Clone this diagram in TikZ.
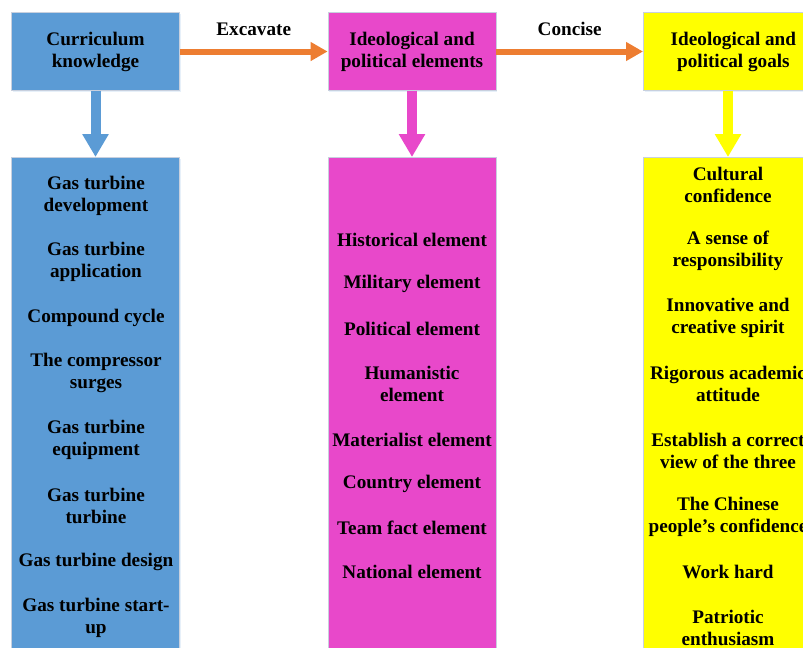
\documentclass[tikz,border=0pt]{standalone}
\usepackage{fontspec}
\setmainfont{Liberation Serif}
\usetikzlibrary{
    positioning,
    arrows.meta,
    shadows
}
\definecolor{KnowBlue}{RGB}{91,155,213}
\definecolor{ElemPink}{RGB}{232,72,202}
\definecolor{GoalYellow}{RGB}{255,255,0}
\definecolor{FlowOrange}{RGB}{237,125,49}
\definecolor{EdgeGray}{RGB}{200,208,222}

\begin{document}
\begin{tikzpicture}[
            x=0.75pt, y=-0.75pt,
            font=\fontsize{14.4}{16.5}\selectfont\bfseries,
            headbox/.style={rectangle, draw=EdgeGray, line width=0.6pt, minimum width=126pt, minimum height=58pt, align=center, drop shadow={shadow xshift=1pt, shadow yshift=-1pt, opacity=0.15, fill=KnowBlue}},
            listbox/.style={rectangle, draw=EdgeGray, line width=0.6pt, minimum width=126pt, minimum height=400pt, anchor=north, drop shadow={shadow xshift=1pt, shadow yshift=-1pt, opacity=0.15, fill=KnowBlue}},
            item/.style={align=center, inner sep=0pt},
            flow/.style={-{Triangle[width=13.5pt, length=12.75pt]}, line width=4.5pt, FlowOrange},
            down/.style={-{Triangle[width=18.75pt, length=17.25pt]}, line width=7.5pt},
        ]
        \useasboundingbox (0,0) rectangle (803,647);
        \clip (0,0) rectangle (803,647);

        % ===== top row =====
        \node[headbox, fill=KnowBlue] (know) at (95.5,51.5) {Curriculum\\knowledge};
        \node[headbox, fill=ElemPink] (elem) at (412,51.5) {Ideological and\\political elements};
        \node[headbox, fill=GoalYellow, minimum width=135pt, anchor=west] (goal) at (643,51.5) {Ideological and\\political goals};

        \draw[flow] (know) -- node[above=6.5pt, text=black] {Excavate} (elem);
        \draw[flow] (elem) -- node[above=6.5pt, text=black] {Concise} (goal);

        % ===== columns =====
        \node[listbox, fill=KnowBlue] (knowlist) at (95.5,157) {};
        \node[listbox, fill=ElemPink] (elemlist) at (412,157) {};
        \node[listbox, fill=GoalYellow, minimum width=135pt, anchor=north west] (goallist) at (643,157) {};

        \draw[down, KnowBlue] (know) -- (knowlist);
        \draw[down, ElemPink] (elem) -- (elemlist);
        \draw[down, GoalYellow] (goal.south -| 728,0) -- (goallist.north -| 728,0);

        % curriculum knowledge
        \node[item] (dev) at (96,196) {Gas turbine\\development};
        \node[item] (app) at (96,262) {Gas turbine\\application};
        \node[item] (cyc) at (96,318) {Compound cycle};
        \node[item] (surge) at (96,373) {The compressor\\surges};
        \node[item] (equip) at (96,440) {Gas turbine\\equipment};
        \node[item] (turb) at (96,506) {Gas turbine\\turbine};
        \node[item] (design) at (96,562) {Gas turbine design};
        \node[item] (start) at (96,618) {Gas turbine start-\\up};

        % ideological and political elements
        \node[item] (hist) at (412,240) {Historical element};
        \node[item] (mil) at (412,284) {Military element};
        \node[item] (pol) at (412,329) {Political element};
        \node[item] (hum) at (412,384) {Humanistic\\element};
        \node[item] (mat) at (412,440) {Materialist element};
        \node[item] (ctry) at (412,484) {Country element};
        \node[item] (team) at (412,528) {Team fact element};
        \node[item] (nat) at (412,572) {National element};

        % ideological and political goals
        \node[item] (cult) at (728,185) {Cultural\\confidence};
        \node[item] (resp) at (728,251) {A sense of\\responsibility};
        \node[item] (innov) at (728,318) {Innovative and\\creative spirit};
        \node[item] (rig) at (728,384) {Rigorous academic\\attitude};
        \node[item] (est) at (728,451) {Establish a correct\\view of the three};
        \node[item] (chin) at (728,517) {The Chinese\\people's confidence};
        \node[item] (work) at (728,572) {Work hard};
        \node[item] (patr) at (728,628) {Patriotic\\enthusiasm};
        \end{tikzpicture}
\end{document}
